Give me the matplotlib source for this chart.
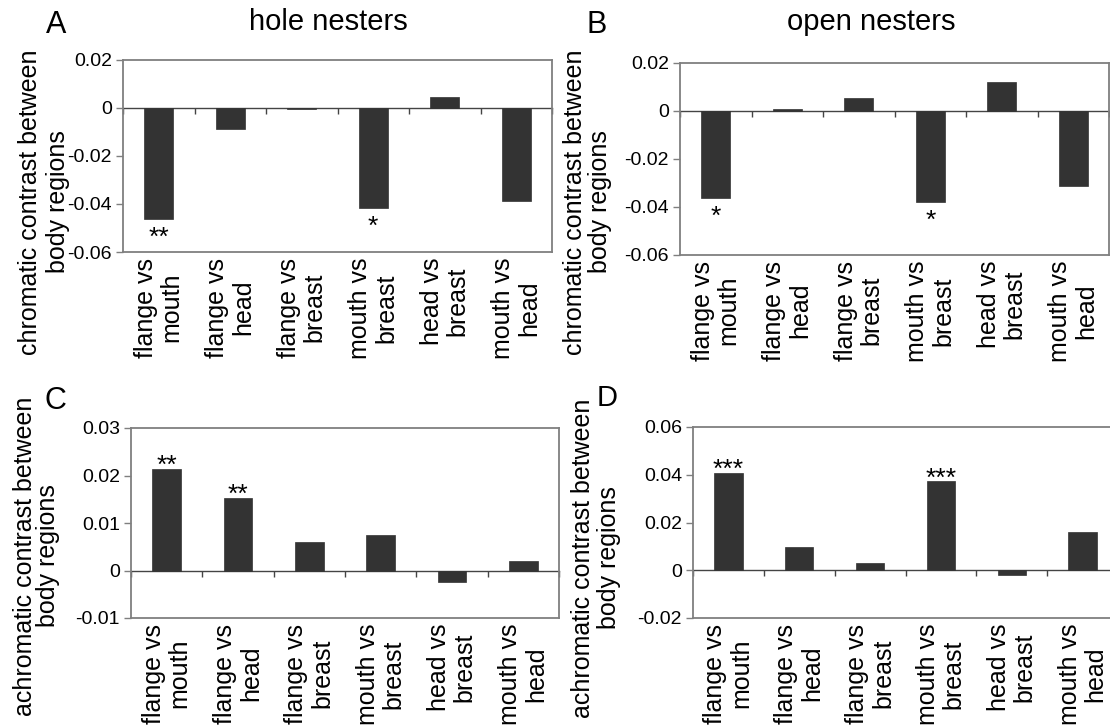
import matplotlib
matplotlib.use("Agg")
import matplotlib.pyplot as plt
import numpy as np

plt.rcParams['font.family'] = ['Liberation Sans', 'DejaVu Sans']
plt.rcParams['axes.unicode_minus'] = False

# data
categories = ['flange vs\nmouth', 'flange vs\nhead', 'flange vs\nbreast',
              'mouth vs\nbreast', 'head vs\nbreast', 'mouth vs\nhead']

hole_chromatic = [-0.0463, -0.0086, -0.0006, -0.0417, 0.0044, -0.0386]
open_chromatic = [-0.0361, 0.0008, 0.0054, -0.0378, 0.0122, -0.0312]
hole_achromatic = [0.0213, 0.0153, 0.0060, 0.0074, -0.0025, 0.0021]
open_achromatic = [0.0408, 0.0097, 0.0032, 0.0372, -0.0021, 0.0159]

hole_chrom_sig = ['**', '', '', '*', '', '']
open_chrom_sig = ['*', '', '', '*', '', '']
hole_achrom_sig = ['**', '**', '', '', '', '']
open_achrom_sig = ['***', '', '', '***', '', '']

chrom_ticks = [-0.06, -0.04, -0.02, 0, 0.02]
hole_achrom_ticks = [-0.01, 0, 0.01, 0.02, 0.03]
open_achrom_ticks = [-0.02, 0, 0.02, 0.04, 0.06]

BAR = '#333333'
FRAME = '#7f7f7f'
ZERO = '#444444'

W, H = 1110, 727
fig = plt.figure(figsize=(W / 100, H / 100), dpi=100)


def px_axes(left, top, right, bottom):
    return fig.add_axes([left / W, 1 - bottom / H, (right - left) / W, (bottom - top) / H])


def panel(ax, values, sig, yticks):
    x = np.arange(len(categories))
    ax.bar(x, values, width=0.4, color=BAR, edgecolor=BAR, linewidth=0.5, zorder=3)
    ax.set_xlim(-0.5, len(categories) - 0.5)
    ax.set_ylim(yticks[0], yticks[-1])
    ax.set_yticks(yticks)
    ax.set_yticklabels([f'{v:g}' for v in yticks])
    ax.set_xticks(x)
    ax.set_xticklabels(categories, rotation=90, fontsize=18, linespacing=1.1,
                       multialignment='center')
    ax.tick_params(axis='x', length=0, pad=4)
    ax.tick_params(axis='y', direction='out', length=5, width=1, color=FRAME,
                   labelsize=14, pad=3)
    for s in ax.spines.values():
        s.set_color(FRAME)
        s.set_linewidth(1.3)

    # category axis crossing at zero, with ticks between categories
    sec = ax.secondary_xaxis(0, transform=ax.transData)
    sec.set_xticks(np.arange(len(categories) + 1) - 0.5)
    sec.tick_params(axis='x', direction='out', length=4, width=1, color=ZERO,
                    labelbottom=False)
    for s in sec.spines.values():
        s.set_color(ZERO)
        s.set_linewidth(1.0)

    for xi, v, s in zip(x, values, sig):
        if not s:
            continue
        if v < 0:
            ax.annotate(s, (xi, v), xytext=(0, -26), textcoords='offset pixels',
                        ha='center', va='baseline', fontsize=19)
        else:
            ax.annotate(s, (xi, v), xytext=(0, -4), textcoords='offset pixels',
                        ha='center', va='baseline', fontsize=19)


axA = px_axes(123, 60, 552, 252)
axB = px_axes(680, 63, 1109, 255)
axC = px_axes(131, 428, 559, 618)
axD = px_axes(693, 427, 1118, 618)

panel(axA, hole_chromatic, hole_chrom_sig, chrom_ticks)
panel(axB, open_chromatic, open_chrom_sig, chrom_ticks)
panel(axC, hole_achromatic, hole_achrom_sig, hole_achrom_ticks)
panel(axD, open_achromatic, open_achrom_sig, open_achrom_ticks)


def ftext(x, y, s, **kw):
    fig.text(x / W, 1 - y / H, s, **kw)


def ylabel(x1, x2, y, first):
    ftext(x1, y, first, rotation=90, ha='center', va='center', fontsize=18)
    ftext(x2, y, 'body regions', rotation=90, ha='center', va='center', fontsize=18)


ylabel(30, 58, 202, 'chromatic contrast between')
ylabel(575, 600, 202, 'chromatic contrast between')
ylabel(25, 48, 556, 'achromatic contrast between')
ylabel(583, 609, 558, 'achromatic contrast between')

ftext(56, 25, 'A', ha='center', va='center', fontsize=22)
ftext(597, 25, 'B', ha='center', va='center', fontsize=22)
ftext(55, 401, 'C', ha='center', va='center', fontsize=22)
ftext(607, 398, 'D', ha='center', va='center', fontsize=21)

ftext(328, 22, 'hole nesters', ha='center', va='center', fontsize=21)
ftext(871, 22, 'open nesters', ha='center', va='center', fontsize=21)

fig.savefig('out.png', dpi=100)
